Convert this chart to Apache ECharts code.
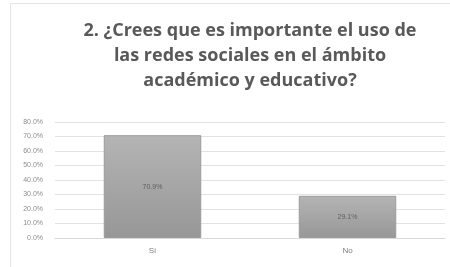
<!DOCTYPE html>
<html><head><meta charset="utf-8">
<script src="https://cdn.jsdelivr.net/npm/echarts@6/dist/echarts.min.js"></script>
<style>html,body{margin:0;padding:0;background:#fff}#c{width:450px;height:267px}</style>
</head><body><div id="c"></div>
<script>
var titleText = "2. ¿Crees que es importante el uso de\nlas redes sociales en el ámbito\nacadémico y educativo?";
var categories = ["Sí", "No"];
var values = [70.9, 29.1];
var yTicks = {min: 0, max: 80, interval: 10};

var chart = echarts.init(document.getElementById('c'), null, {renderer: 'canvas'});
chart.setOption({
  animation: false,
  backgroundColor: '#ffffff',
  graphic: [{type: 'rect', shape: {x: 10.5, y: 3.5, width: 460, height: 300}, style: {fill: 'none', stroke: '#e4e4e4', lineWidth: 1}, silent: true}],
  title: {
    text: titleText, left: 245, top: 13, textAlign: 'center',
    textStyle: {fontFamily: 'Open Sans', fontWeight: 'bold', fontSize: 18, color: '#595959', lineHeight: 25}
  },
  grid: {left: 55, right: 5, top: 122, bottom: 29},
  xAxis: {
    type: 'category', data: categories,
    axisLine: {lineStyle: {color: '#d9d9d9'}}, axisTick: {show: false},
    axisLabel: {color: '#7f7f7f', fontSize: 8, fontFamily: 'Liberation Sans', margin: 9}
  },
  yAxis: {
    type: 'value', min: yTicks.min, max: yTicks.max, interval: yTicks.interval,
    axisLine: {show: false}, axisTick: {show: false},
    splitLine: {lineStyle: {color: '#e2e2e2'}},
    axisLabel: {color: '#8c8c8c', fontSize: 7, fontFamily: 'Liberation Sans', margin: 12,
      formatter: function (v) { return v.toFixed(1) + '%'; }}
  },
  series: [{
    type: 'bar', data: values, barWidth: '50%',
    itemStyle: {
      color: new echarts.graphic.LinearGradient(0, 0, 0, 1, [{offset: 0, color: '#b4b4b4'}, {offset: 1, color: '#979797'}]),
      borderColor: '#9a9a9a', borderWidth: 1
    },
    label: {show: true, position: 'inside', color: '#606060', fontSize: 7, fontFamily: 'Liberation Sans',
      formatter: function (p) { return p.value.toFixed(1) + '%'; }}
  }]
});
</script></body></html>
